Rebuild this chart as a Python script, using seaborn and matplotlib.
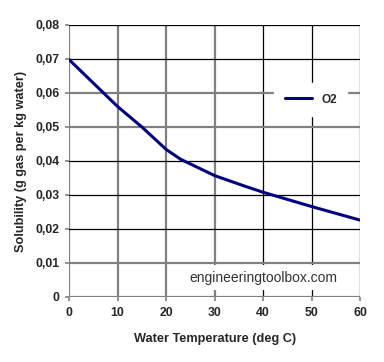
import seaborn as sns
import matplotlib.pyplot as plt
import pandas as pd

# values
temperature = [0, 10, 15, 20, 23, 30, 36, 40, 50, 60]
solubility = [0.0698, 0.0560, 0.0500, 0.0434, 0.0405, 0.0357, 0.0327, 0.0308, 0.0266, 0.0226]
x_ticks = [0, 10, 20, 30, 40, 50, 60]
y_ticks = [0, 0.01, 0.02, 0.03, 0.04, 0.05, 0.06, 0.07, 0.08]
y_tick_labels = ['0', '0,01', '0,02', '0,03', '0,04', '0,05', '0,06', '0,07', '0,08']

df = pd.DataFrame({'temp': temperature, 'sol': solubility, 'gas': 'O2'})

sns.set_theme(style='white')
plt.rcParams['font.family'] = ['Liberation Sans', 'DejaVu Sans']

fig = plt.figure(figsize=(3.84, 3.62), dpi=100)
ax = fig.add_axes([0.18, 0.1796, 0.7578, 0.7514])

sns.lineplot(data=df, x='temp', y='sol', hue='gas', palette=['#000080'],
             linewidth=2.2, ax=ax)

ax.set_xlim(0, 60)
ax.set_ylim(0, 0.08)
ax.set_xticks(x_ticks)
ax.set_xticklabels([str(t) for t in x_ticks])
ax.set_yticks(y_ticks)
ax.set_yticklabels(y_tick_labels)

#grid lines act as the frame, with the mixed gray/black look of the original
for s in ax.spines.values():
    s.set_visible(False)
ax.grid(True)
gray, black = '#808080', '#000000'
x_cols = [gray, gray, gray, gray, black, black, black]
y_cols = [gray, gray, black, black, black, gray, gray, black, black]
for line, c in zip(ax.get_xgridlines(), x_cols):
    line.set_color(c)
    line.set_linewidth(1.6 if c == gray else 0.9)
for line, c in zip(ax.get_ygridlines(), y_cols):
    line.set_color(c)
    line.set_linewidth(1.6 if c == gray else 0.9)
ax.set_axisbelow(True)

ax.tick_params(axis='both', which='major', bottom=True, left=True,
               length=3, width=1.2, color=gray, labelsize=8.8, pad=4)
for lab in ax.get_xticklabels() + ax.get_yticklabels():
    lab.set_fontweight('bold')

ax.set_xlabel('Water Temperature (deg C)', fontsize=9.2, fontweight='bold', labelpad=10)
ax.set_ylabel('Solubility (g gas per kg water)', fontsize=9.2, fontweight='bold', labelpad=6)

leg = ax.legend(loc='center', bbox_to_anchor=(0.83, 0.726), frameon=True,
                fancybox=False, framealpha=1, facecolor='white', edgecolor='white',
                handlelength=2.3, borderpad=0.9, prop={'size': 8.5, 'weight': 'bold'})
leg.set_title(None)

ax.text(0.667, 0.07, 'engineeringtoolbox.com', transform=ax.transAxes,
        ha='center', va='center', fontsize=10, color='#333333',
        bbox=dict(facecolor='white', edgecolor='none', pad=4))

plt.savefig('out.png', dpi=100)
